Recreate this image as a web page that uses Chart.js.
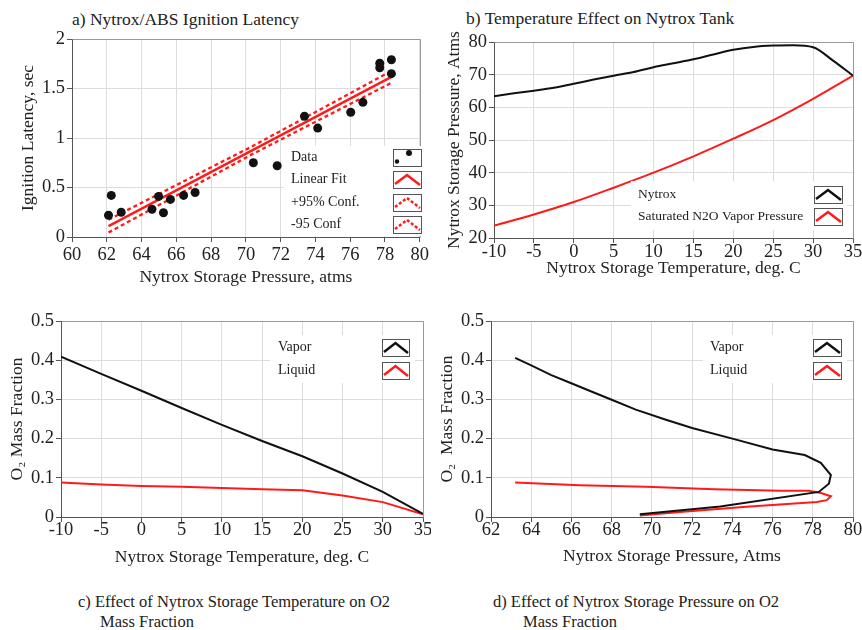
<!DOCTYPE html>
<html>
<head>
<meta charset="utf-8">
<script src="https://cdn.jsdelivr.net/npm/chart.js@4"></script>
<style>
  body { margin: 0; background: #fff; }
  #wrap { position: relative; width: 862px; height: 630px; font-family: "Liberation Serif", "Times New Roman", serif; color: #222; }
  canvas { position: absolute; }
  .cap { position: absolute; white-space: nowrap; line-height: 20px; }
</style>
</head>
<body>
<div id="wrap">
  <div class="cap" style="left:72px; top:9px; font-size:17.5px">a) Nytrox/ABS Ignition Latency</div>
  <div class="cap" style="left:466px; top:8px; font-size:17.5px">b) Temperature Effect on Nytrox Tank</div>
  <div class="cap" style="left:78px; top:592px; font-size:16.5px">c) Effect of Nytrox Storage Temperature on O2</div>
  <div class="cap" style="left:100px; top:612px; font-size:16.5px">Mass Fraction</div>
  <div class="cap" style="left:493px; top:592px; font-size:16.5px">d) Effect of Nytrox Storage Pressure on O2</div>
  <div class="cap" style="left:523px; top:612px; font-size:16.5px">Mass Fraction</div>

  <canvas id="chartA" width="431" height="290" style="left:0; top:0"></canvas>
  <canvas id="chartB" width="431" height="290" style="left:431px; top:0"></canvas>
  <canvas id="chartC" width="431" height="290" style="left:0; top:290px"></canvas>
  <canvas id="chartD" width="431" height="290" style="left:431px; top:290px"></canvas>
</div>

<script>
// ===== DATA =====

// a) ignition latency vs storage pressure
const latencyPressure = [62.1, 62.26, 62.83, 64.6, 64.98, 65.26, 65.66, 66.42, 67.08, 70.43, 71.8, 73.37, 74.13, 76.03, 76.73, 77.7, 77.7, 78.37, 78.37];
const latencySec = [0.22, 0.42, 0.25, 0.28, 0.41, 0.245, 0.38, 0.42, 0.45, 0.75, 0.72, 1.22, 1.10, 1.26, 1.36, 1.755, 1.71, 1.79, 1.65];
const fitPressure = [62.1, 78.4];
const fitSec = [0.11, 1.62];
const confPressure = [62.1, 70.3, 78.4];
const confUpper = [0.175, 0.91, 1.68];
const confLower = [0.045, 0.83, 1.56];

// b) tank pressure vs temperature
const tankTemp = [-10, -7.5, -5, -2.5, 0, 2.5, 5, 7.5, 10, 12.5, 15, 17.5, 20, 22.5, 25, 27.5, 30, 32.5, 35];
const nytroxPressure = [63.4, 64.3, 65.1, 66.0, 67.2, 68.5, 69.7, 70.8, 72.3, 73.5, 74.7, 76.2, 77.6, 78.5, 78.9, 79.0, 78.4, 74.3, 69.7];
const n2oTemp = [-10, -5, 0, 5, 10, 15, 20, 25, 30, 35];
const n2oVaporPressure = [23.8, 27.2, 31.0, 35.4, 40.0, 45.0, 50.4, 56.1, 62.6, 69.7];

// c) O2 mass fraction vs temperature
const fracTemp = [-10, -5, 0, 5, 10, 15, 20, 25, 30, 35];
const vaporO2 = [0.409, 0.365, 0.322, 0.278, 0.235, 0.194, 0.155, 0.111, 0.064, 0.008];
const liquidO2 = [0.088, 0.083, 0.079, 0.077, 0.074, 0.071, 0.068, 0.055, 0.038, 0.007];

// d) O2 mass fraction vs pressure
const vaporP = [63.2, 64.0, 65.0, 65.9, 66.9, 68.0, 69.2, 70.7, 72.0, 74.0, 76.0, 77.6, 78.4, 78.9, 78.8, 78.3, 73.4, 69.4];
const vaporFrac = [0.406, 0.387, 0.362, 0.343, 0.322, 0.299, 0.274, 0.248, 0.227, 0.2, 0.172, 0.158, 0.138, 0.107, 0.085, 0.064, 0.027, 0.007];
const liquidP = [63.2, 66.4, 69.7, 73.1, 76.4, 77.8, 78.4, 78.9, 78.7, 78.2, 74.7, 71.4, 69.4];
const liquidFrac = [0.088, 0.081, 0.077, 0.071, 0.067, 0.067, 0.061, 0.053, 0.043, 0.038, 0.026, 0.013, 0.004];

// ===== HELPERS =====

const SERIF = '"Liberation Serif", "Times New Roman", serif';
const RED = '#ff1a1a';
const BLACK = '#111';

function pts(xs, ys) {
    return xs.map((x, i) => ({ x: x, y: ys[i] }));
}

function line(data, color, extra) {
    return Object.assign({
        data: data,
        showLine: true,
        borderColor: color,
        backgroundColor: color,
        borderWidth: 2,
        pointRadius: 0,
        tension: 0
    }, extra || {});
}

// one axis; size is the fixed width (y) or height (x) of the scale box
function axis(min, max, step, title, size, tickPad, titlePad) {
    return {
        type: 'linear',
        min: min,
        max: max,
        ticks: {
            stepSize: step,
            autoSkip: false,
            maxRotation: 0,
            color: '#222',
            padding: tickPad,
            font: { family: SERIF, size: 18.5 },
            callback: v => String(parseFloat(v.toFixed(2)))
        },
        grid: { color: '#dcdcdc', tickColor: '#555', tickLength: 5 },
        border: { color: '#555' },
        title: {
            display: true,
            text: title,
            color: '#222',
            padding: titlePad,
            font: { family: SERIF, size: 17.5 }
        },
        afterFit: s => {
            if (s.isHorizontal()) s.height = size; else s.width = size;
        }
    };
}

// light frame on the top and right of the plot area
const framePlugin = {
    id: 'frame',
    beforeDatasetsDraw(chart) {
        const { ctx, chartArea: a } = chart;
        ctx.save();
        ctx.strokeStyle = '#999';
        ctx.lineWidth = 1;
        ctx.beginPath();
        ctx.moveTo(Math.round(a.left) + 0.5, Math.round(a.top) + 0.5);
        ctx.lineTo(Math.round(a.right) + 0.5, Math.round(a.top) + 0.5);
        ctx.lineTo(Math.round(a.right) + 0.5, Math.round(a.bottom) + 0.5);
        ctx.stroke();
        ctx.restore();
    }
};

// legend with text on the left and a small sample box on the right
function boxLegend(cfg) {
    return {
        id: 'boxLegend',
        afterDatasetsDraw(chart) {
            const ctx = chart.ctx;
            ctx.save();
            ctx.fillStyle = '#fff';
            ctx.fillRect(cfg.bg[0], cfg.bg[1], cfg.bg[2] - cfg.bg[0], cfg.bg[3] - cfg.bg[1]);
            ctx.font = cfg.fontSize + 'px ' + SERIF;
            ctx.textBaseline = 'middle';
            cfg.items.forEach((it, i) => {
                const t = Math.round(cfg.top + i * cfg.step);
                const l = cfg.boxX;
                const w = cfg.boxW;
                const h = cfg.boxH;
                ctx.fillStyle = '#222';
                ctx.fillText(it.label, cfg.textX, t + h / 2);

                ctx.setLineDash([]);
                ctx.strokeStyle = '#555';
                ctx.lineWidth = 1;
                ctx.strokeRect(l + 0.5, t + 0.5, w, h);

                if (it.kind === 'dots') {
                    ctx.fillStyle = BLACK;
                    ctx.beginPath();
                    ctx.arc(l + 4, t + h - 4.5, 2.2, 0, Math.PI * 2);
                    ctx.fill();
                    ctx.beginPath();
                    ctx.arc(l + 16, t + 4, 3, 0, Math.PI * 2);
                    ctx.fill();
                } else {
                    ctx.strokeStyle = it.color;
                    ctx.lineWidth = 2.5;
                    ctx.setLineDash(it.dash || []);
                    ctx.beginPath();
                    ctx.moveTo(l + 2, t + h - 4);
                    ctx.lineTo(l + w / 2, t + 4);
                    ctx.lineTo(l + w - 1, t + h - 3);
                    ctx.stroke();
                }
            });
            ctx.restore();
        }
    };
}

function baseOptions(padTop, padRight, scales) {
    return {
        responsive: false,
        animation: false,
        events: [],
        layout: { padding: { top: padTop, right: padRight, left: 0, bottom: 0 } },
        plugins: { legend: { display: false }, tooltip: { enabled: false } },
        scales: scales
    };
}

// ===== CHART A: ignition latency =====

new Chart(document.getElementById('chartA'), {
    type: 'scatter',
    data: {
        datasets: [
            { data: pts(latencyPressure, latencySec), backgroundColor: BLACK, borderColor: BLACK, pointRadius: 4.5, pointBorderWidth: 0 },
            line(pts(fitPressure, fitSec), RED, { borderWidth: 2.3 }),
            line(pts(confPressure, confUpper), RED, { borderWidth: 2.3, borderDash: [4, 3] }),
            line(pts(confPressure, confLower), RED, { borderWidth: 2.3, borderDash: [4, 3] })
        ]
    },
    options: baseOptions(39, 8, {
        x: axis(60, 80, 2, 'Nytrox Storage Pressure, atms', 53, 2, { top: 0, bottom: 2 }),
        y: axis(0, 2, 0.5, 'Ignition Latency, sec', 72, 2, { top: 18, bottom: 0 })
    }),
    plugins: [framePlugin, boxLegend({
        bg: [284, 146, 423, 236], textX: 291, boxX: 393, boxW: 28, boxH: 17, top: 149, step: 22.3, fontSize: 14,
        items: [
            { label: 'Data', kind: 'dots' },
            { label: 'Linear Fit', color: RED },
            { label: '+95% Conf.', color: RED, dash: [3, 2] },
            { label: '-95 Conf', color: RED, dash: [3, 2] }
        ]
    })]
});

// ===== CHART B: tank pressure =====

new Chart(document.getElementById('chartB'), {
    type: 'scatter',
    data: {
        datasets: [
            line(pts(tankTemp, nytroxPressure), BLACK, { cubicInterpolationMode: 'monotone' }),
            line(pts(n2oTemp, n2oVaporPressure), RED, { cubicInterpolationMode: 'monotone' })
        ]
    },
    options: baseOptions(42, 9, {
        x: axis(-10, 35, 5, 'Nytrox Storage Temperature, deg. C', 52, -2, { top: 0, bottom: 11 }),
        y: axis(20, 80, 10, 'Nytrox Storage Pressure, Atms', 63, 2, { top: 13, bottom: 0 })
    }),
    plugins: [framePlugin, boxLegend({
        bg: [200, 181, 416, 230], textX: 207, boxX: 383, boxW: 28, boxH: 17, top: 186, step: 21.5, fontSize: 13.5,
        items: [
            { label: 'Nytrox', color: BLACK },
            { label: 'Saturated N2O Vapor Pressure', color: RED }
        ]
    })]
});

// ===== CHART C: O2 fraction vs temperature =====

new Chart(document.getElementById('chartC'), {
    type: 'scatter',
    data: {
        datasets: [
            line(pts(fracTemp, vaporO2), BLACK),
            line(pts(fracTemp, liquidO2), RED)
        ]
    },
    options: baseOptions(31, 8, {
        x: axis(-10, 35, 5, 'Nytrox Storage Temperature, deg. C', 63, -3, { top: 0, bottom: 12 }),
        y: axis(0, 0.5, 0.1, 'O\u2082 Mass Fraction', 61, 2, { top: 7, bottom: 0 })
    }),
    plugins: [framePlugin, boxLegend({
        bg: [270, 45, 415, 93], textX: 278, boxX: 382, boxW: 27, boxH: 17, top: 49, step: 23, fontSize: 14,
        items: [
            { label: 'Vapor', color: BLACK },
            { label: 'Liquid', color: RED }
        ]
    })]
});

// ===== CHART D: O2 fraction vs pressure =====

new Chart(document.getElementById('chartD'), {
    type: 'scatter',
    data: {
        datasets: [
            line(pts(vaporP, vaporFrac), BLACK),
            line(pts(liquidP, liquidFrac), RED)
        ]
    },
    options: baseOptions(31, 9, {
        x: axis(62, 80, 2, 'Nytrox Storage Pressure, Atms', 63, -3, { top: 0, bottom: 13 }),
        y: axis(0, 0.5, 0.1, 'O\u2082  Mass Fraction', 60, 2, { top: 6, bottom: 0 })
    }),
    plugins: [framePlugin, boxLegend({
        bg: [272, 45, 416, 93], textX: 279, boxX: 382, boxW: 28, boxH: 17, top: 49, step: 23, fontSize: 14,
        items: [
            { label: 'Vapor', color: BLACK },
            { label: 'Liquid', color: RED }
        ]
    })]
});
</script>
</body>
</html>
